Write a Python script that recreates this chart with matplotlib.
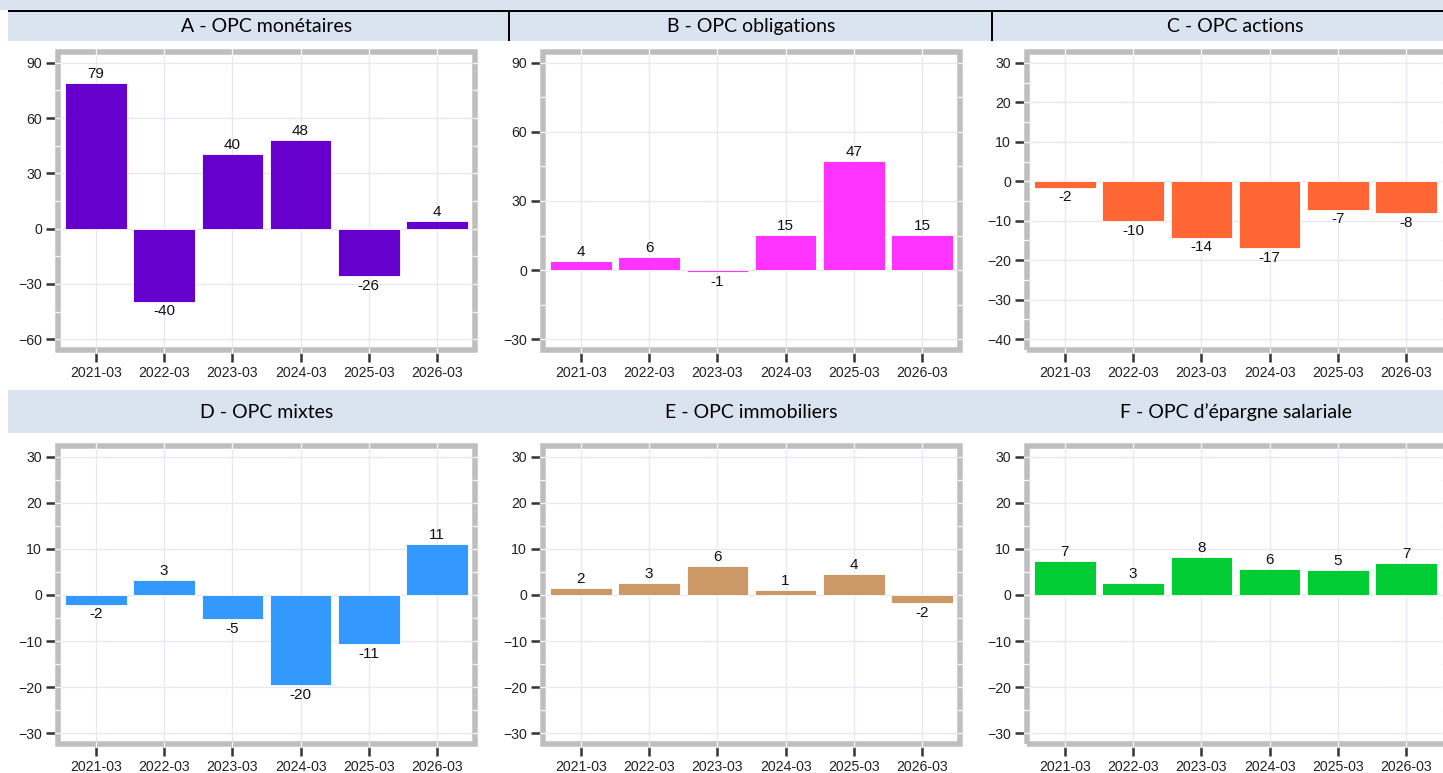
import numpy as np
import matplotlib
matplotlib.use("Agg")
import matplotlib.pyplot as plt
from matplotlib.patches import Rectangle
from matplotlib.transforms import blended_transform_factory

plt.rcParams["font.family"] = ["Liberation Sans", "DejaVu Sans"]

# data
periods = ["2021-03", "2022-03", "2023-03", "2024-03", "2025-03", "2026-03"]
titles = ["A - OPC monétaires", "B - OPC obligations", "C - OPC actions",
          "D - OPC mixtes", "E - OPC immobiliers", "F - OPC d\u2019épargne salariale"]
monetaires = [79.0, -39.6, 40.3, 48.0, -25.8, 4.2]
obligations = [3.8, 5.7, -0.8, 15.2, 47.3, 15.1]
actions = [-1.6, -10.1, -14.3, -17.0, -7.2, -8.0]
mixtes = [-2.1, 3.2, -5.2, -19.6, -10.6, 11.1]
immobiliers = [1.6, 2.6, 6.3, 1.1, 4.5, -1.8]
epargne_sal = [7.3, 2.6, 8.3, 5.6, 5.4, 6.9]
series = [monetaires, obligations, actions, mixtes, immobiliers, epargne_sal]
colors = ["#6600cc", "#ff33ff", "#ff6633", "#3399ff", "#cc9966", "#00cc33"]
yticks = [[-60, -30, 0, 30, 60, 90], [-30, 0, 30, 60, 90],
          [-40, -30, -20, -10, 0, 10, 20, 30],
          [-30, -20, -10, 0, 10, 20, 30], [-30, -20, -10, 0, 10, 20, 30],
          [-30, -20, -10, 0, 10, 20, 30]]
ylims = [(-67.5, 97.5), (-36, 96), (-43.5, 33.5), (-33, 33), (-33, 33), (-33, 33)]

W, H = 1443, 773
fig = plt.figure(figsize=(W / 100, H / 100), dpi=100)
band = "#dae3f0"
border = "#bebebe"
grid = "#ebe6f5"


def fig_rect(x0, y0, x1, y1, color):
    fig.add_artist(Rectangle((x0 / W, 1 - y1 / H), (x1 - x0) / W, (y1 - y0) / H,
                             transform=fig.transFigure, color=color, lw=0, zorder=0))


# header bands
fig_rect(0, 0, W, 10, band)
fig_rect(8, 12, W, 41, band)
fig_rect(8, 390, W, 433, band)
fig_rect(8, 10, W, 12, "black")
fig_rect(508, 10, 510, 41, "black")
fig_rect(991, 10, 993, 41, "black")

col_x = [(55, 478), (540, 963), (1024, 1447)]
row_y = [(49, 353), (443, 747)]
title_y = [26.5, 412]
bw = 5.5  # border thickness px

for i, vals in enumerate(series):
    r, c = divmod(i, 3)
    x0, x1 = col_x[c]
    y0, y1 = row_y[r]
    ax = fig.add_axes([x0 / W, 1 - y1 / H, (x1 - x0) / W, (y1 - y0) / H])
    fig.text((x0 + x1) / 2 / W, 1 - title_y[r] / H, titles[i], ha="center", va="center",
             fontsize=14, family="Lato", color="#000000")

    x = np.arange(len(periods))
    ax.bar(x, vals, width=0.9, color=colors[i], edgecolor="white", linewidth=0.6, zorder=2)
    for xi, v in zip(x, vals):
        if v >= 0:
            ax.annotate(f"{v:.0f}", (xi, v), xytext=(0, 1.5), textcoords="offset points",
                        ha="center", va="bottom", fontsize=11, color="#111111")
        else:
            ax.annotate(f"{v:.0f}", (xi, v), xytext=(0, -2), textcoords="offset points",
                        ha="center", va="top", fontsize=11, color="#111111")

    ax.set_xlim(-0.6, len(periods) - 0.4)
    ax.set_ylim(*ylims[i])
    ax.set_xticks(x)
    ax.set_xticklabels(periods)
    ax.set_yticks(yticks[i])
    ax.grid(True, color=grid, linewidth=1.0, zorder=0)
    ax.set_axisbelow(True)
    for s in ax.spines.values():
        s.set_visible(False)
    ax.tick_params(axis="both", length=6.5, width=1.8, color="#333333", pad=3,
                   labelsize=10.2, labelcolor="#222222")
    ax.tick_params(axis="x", pad=3)

    # thick grey border drawn inside the panel
    pw, ph = x1 - x0, y1 - y0
    hx, hy = bw / 2 / pw, bw / 2 / ph
    ax.add_patch(Rectangle((hx, hy), 1 - 2 * hx, 1 - 2 * hy, transform=ax.transAxes,
                           fill=False, edgecolor=border, linewidth=bw * 0.72,
                           clip_on=False, zorder=5))
    # grid lines showing through the border
    ty = blended_transform_factory(ax.transAxes, ax.transData)
    tx = blended_transform_factory(ax.transData, ax.transAxes)
    step = yticks[i][1] - yticks[i][0]
    ys = np.arange(yticks[i][0] - step / 2, yticks[i][-1] + step, step / 2)
    for yv in ys:
        if ylims[i][0] < yv < ylims[i][1]:
            for a, b in [(0, 2 * hx), (1 - 2 * hx, 1)]:
                ax.plot([a, b], [yv, yv], transform=ty, color="#f4f4f4", lw=1.0,
                        zorder=6, clip_on=False)
    for xv in x:
        for a, b in [(0, 2 * hy), (1 - 2 * hy, 1)]:
            ax.plot([xv, xv], [a, b], transform=tx, color="#f4f4f4", lw=1.0,
                    zorder=6, clip_on=False)

fig.savefig("out.png", dpi=100)
